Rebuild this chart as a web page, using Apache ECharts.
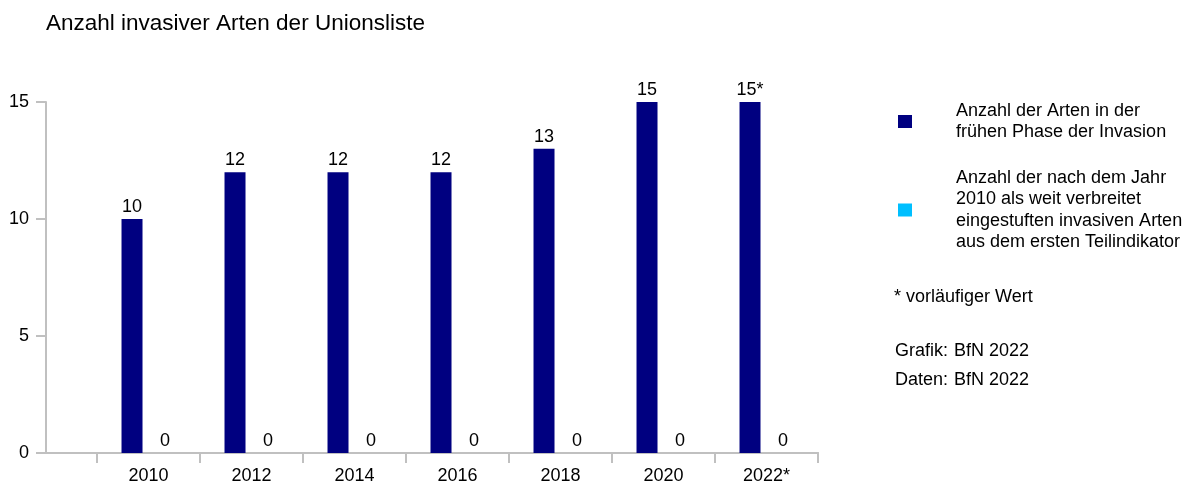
<!DOCTYPE html>
<html>
<head>
<meta charset="utf-8">
<script src="https://cdn.jsdelivr.net/npm/echarts@6/dist/echarts.min.js"></script>
<style>
html,body{margin:0;padding:0;background:#fff;}
#chart{width:1187px;height:485px;}
</style>
</head>
<body>
<div id="chart"></div>
<script>
const titleText = 'Anzahl invasiver Arten der Unionsliste';
const categories = ['2010', '2012', '2014', '2016', '2018', '2020', '2022*'];
const seriesNames = [
  'Anzahl der Arten in der\nfrühen Phase der Invasion',
  'Anzahl der nach dem Jahr\n2010 als weit verbreitet\neingestuften invasiven Arten\naus dem ersten Teilindikator'
];
const earlyPhase = [10, 12, 12, 12, 13, 15, 15];
const widespread = [0, 0, 0, 0, 0, 0, 0];
const yTicks = { min: 0, max: 15, interval: 5 };
const noteText = '* vorläufiger Wert';
const creditLabels = ['Grafik:', 'Daten:'];
const creditValues = ['BfN 2022', 'BfN 2022'];

const FONT = '"Liberation Sans", Arial, sans-serif';
const AXIS_COLOR = '#c0c0c0';
const colors = ['#000080', '#00bfff'];
const FS = 18;

const chart = echarts.init(document.getElementById('chart'), null, { renderer: 'canvas' });

function labelFmt(p) {
  const star = (p.seriesIndex === 0 && categories[p.dataIndex].endsWith('*')) ? '*' : '';
  return p.value + star;
}

chart.setOption({
  animation: false,
  backgroundColor: '#ffffff',
  title: {
    text: titleText,
    left: 41,
    top: 7,
    textStyle: { fontFamily: FONT, fontSize: 22.5, fontWeight: 'normal', color: '#000' }
  },
  legend: {
    orient: 'vertical',
    left: 893,
    top: 95,
    itemWidth: 14,
    itemHeight: 13,
    itemGap: 24,
    icon: 'rect',
    selectedMode: false,
    data: seriesNames,
    textStyle: {
      fontFamily: FONT, fontSize: FS, color: '#000', lineHeight: 21.5,
      padding: [0, 0, 0, 39]
    }
  },
  grid: [
    { left: 46, right: 369, top: 102, bottom: 32 },
    { left: 97, right: 369, top: 102, bottom: 32 }
  ],
  xAxis: [
    {
      type: 'value', gridIndex: 0, min: 0, max: 1,
      axisLine: { show: true, lineStyle: { color: AXIS_COLOR, width: 2 } },
      axisTick: { show: false }, axisLabel: { show: false }, splitLine: { show: false }
    },
    {
      type: 'category', gridIndex: 1, data: categories,
      axisLine: { show: true, lineStyle: { color: AXIS_COLOR, width: 2 } },
      axisTick: { show: true, length: 10, lineStyle: { color: AXIS_COLOR, width: 2 } },
      axisLabel: { fontFamily: FONT, fontSize: FS, color: '#000', margin: 14 },
      splitLine: { show: false }
    }
  ],
  yAxis: [
    {
      type: 'value', gridIndex: 0, min: yTicks.min, max: yTicks.max, interval: yTicks.interval,
      axisLine: { show: true, onZero: false, lineStyle: { color: AXIS_COLOR, width: 2 } },
      axisTick: { show: true, length: 10, lineStyle: { color: AXIS_COLOR, width: 2 } },
      axisLabel: { fontFamily: FONT, fontSize: FS, color: '#000', margin: 17 },
      splitLine: { show: false }
    },
    {
      type: 'value', gridIndex: 1, min: yTicks.min, max: yTicks.max, interval: yTicks.interval,
      show: false, splitLine: { show: false }
    }
  ],
  series: [
    {
      name: seriesNames[0], type: 'bar', xAxisIndex: 1, yAxisIndex: 1,
      data: earlyPhase, barWidth: 21, barGap: '57%',
      itemStyle: { color: colors[0] },
      label: { show: true, position: 'top', distance: 3, fontFamily: FONT, fontSize: FS, color: '#000', formatter: labelFmt }
    },
    {
      name: seriesNames[1], type: 'bar', xAxisIndex: 1, yAxisIndex: 1,
      data: widespread, barWidth: 21,
      itemStyle: { color: colors[1] },
      label: { show: true, position: 'top', distance: 3, fontFamily: FONT, fontSize: FS, color: '#000', formatter: labelFmt }
    }
  ],
  graphic: [
    { type: 'text', left: 894, top: 288, style: { text: noteText, font: FS + 'px ' + FONT, fill: '#000' } },
    { type: 'text', right: 1187 - 948, top: 342, style: { text: creditLabels[0], font: FS + 'px ' + FONT, fill: '#000' } },
    { type: 'text', left: 954, top: 342, style: { text: creditValues[0], font: FS + 'px ' + FONT, fill: '#000' } },
    { type: 'text', right: 1187 - 948, top: 371, style: { text: creditLabels[1], font: FS + 'px ' + FONT, fill: '#000' } },
    { type: 'text', left: 954, top: 371, style: { text: creditValues[1], font: FS + 'px ' + FONT, fill: '#000' } }
  ]
});
</script>
</body>
</html>
